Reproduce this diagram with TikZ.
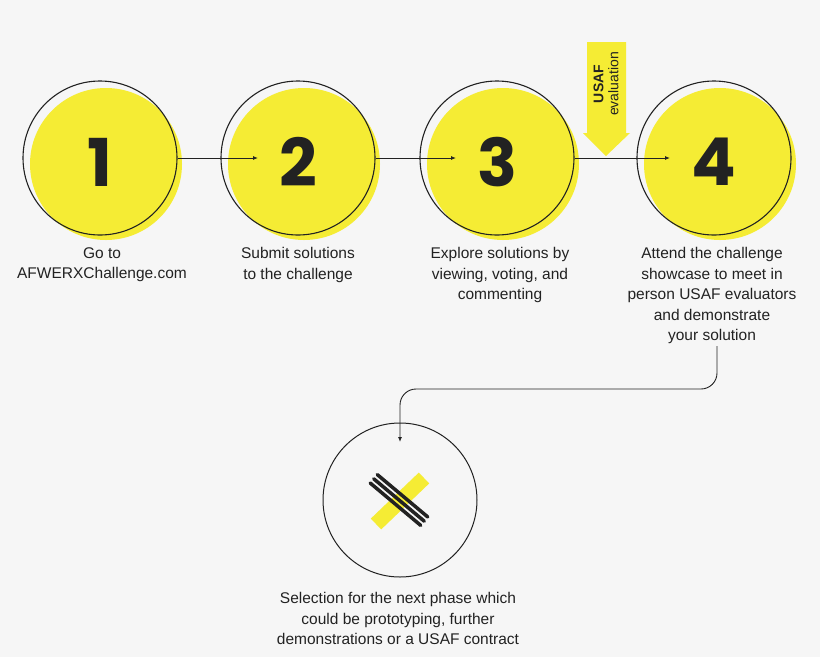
\documentclass[tikz,border=0pt]{standalone}
\usepackage{fontspec}
\setmainfont{Liberation Sans}
\newfontfamily\numfont{Poppins}
\usetikzlibrary{arrows.meta}
\definecolor{yel}{HTML}{F5EC34}
\definecolor{bg}{HTML}{F6F6F6}
\definecolor{ink}{HTML}{222222}
\begin{document}
\begin{tikzpicture}[x=1pt,y=-1pt,
  ring/.style={draw=ink,line width=1.1pt,circle,minimum size=154pt,inner sep=0pt},
  disc/.style={fill=yel,circle,minimum size=152pt,inner sep=0pt},
  num/.style={font=\numfont\fontsize{66}{66}\selectfont\bfseries,text=ink},
  lab/.style={font=\fontsize{15.5}{20.5}\selectfont,text=ink,align=center},
  conn/.style={draw=ink,line width=0.9pt,-{Latex[length=5pt,width=4pt]}}]
\fill[bg] (0,0) rectangle (820,657);
\foreach \n/\x in {1/100,2/298,3/497,4/714}{
  \node[disc] at (\x+6,164) {};
  \node[ring] (c\n) at (\x,158) {};
  \node[num] (n\n) at (\x,162) {\n};
}
\coordinate (a2) at (258,158);
\coordinate (a3) at (456,158);
\coordinate (a4) at (670,158);
\draw[conn] (c1.east) -- (a2);
\draw[conn] (c2.east) -- (a3);
\draw[conn] (c3.east) -- (a4);
% USAF arrow
\fill[yel] (587,42) -- (626,42) -- (626,133) -- (630,133) -- (606,156) -- (583,133) -- (587,133) -- cycle;
\node[rotate=90,align=center,text=ink,font=\fontsize{14}{15}\selectfont] (usaf) at (606,84) {\textbf{USAF}\\evaluation};
% labels
\node[lab,anchor=north] (l1) at (102,244) {Go to\\AFWERXChallenge.com};
\node[lab,anchor=north] (l2) at (298,244) {Submit solutions\\to the challenge};
\node[lab,anchor=north] (l3) at (500,244) {Explore solutions by\\viewing, voting, and\\commenting};
\node[lab,anchor=north] (l4) at (712,244) {Attend the challenge\\showcase to meet in\\person USAF evaluators\\and demonstrate\\your solution};
% bottom circle
\node[circle,draw=ink,line width=1pt,minimum size=154pt,inner sep=0pt] (c5) at (400,500) {};
\coordinate (a5) at (400,442);
\draw[conn,rounded corners=16pt] (717,346) -- (717,389) -- (400,389) -- (a5);
% X logo
\draw[yel,line width=15pt] (376,524) -- (424,478);
\begin{scope}[shift={(399,500)},rotate=-40]
\foreach \d in {-5.5,0,5.5}
  \draw[ink,line width=3.5pt,line cap=round] (-33,\d) -- (33,\d);
\end{scope}
\node[lab,anchor=north] (l5) at (398,589) {Selection for the next phase which\\could be prototyping, further\\demonstrations or a USAF contract};
\end{tikzpicture}
\end{document}
